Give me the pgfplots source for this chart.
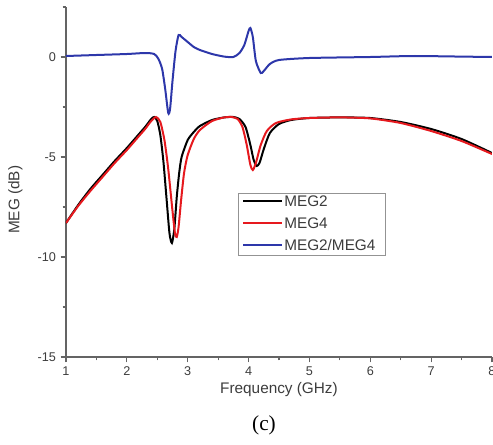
\documentclass[border=0pt]{standalone}
\usepackage{fontspec}
\setmainfont{Liberation Sans}
\newfontfamily\serifc{Liberation Serif}
\usepackage{pgfplots}
\pgfplotsset{compat=1.18}
\definecolor{megblue}{RGB}{45,55,170}
\definecolor{megred}{RGB}{230,25,30}
\definecolor{axgray}{RGB}{100,100,100}
\definecolor{txtgray}{RGB}{60,60,60}

\begin{document}
\begin{tikzpicture}[x=1pt,y=1pt]
\begin{axis}[name=ax,
    at={(0,0)}, anchor=south west,
    scale only axis,
    width=319.5pt, height=262.5pt,
    xmin=1, xmax=8, ymin=-15, ymax=2.5,
    axis x line*=bottom, axis y line*=left,
    axis line style={axgray, line width=0.9pt},
    every tick/.style={axgray, line width=0.8pt},
    tick align=outside,
    major tick length=4pt, minor tick length=2.5pt,
    xtick={1,...,8}, ytick={-15,-10,-5,0},
    minor xtick={1.5,2.5,...,7.5},
    minor ytick={-12.5,-7.5,-2.5,2.5},
    tick label style={font=\fontsize{9.5}{11}\selectfont, text=txtgray},
    /pgf/number format/assume math mode=true,
    xlabel={Frequency (GHz)}, ylabel={MEG (dB)},
    label style={font=\fontsize{11.5}{13}\selectfont, text=txtgray},
    xlabel style={at={(axis description cs:0.5,-0.092)}, anchor=center},
    ylabel style={at={(axis description cs:-0.119,0.449)}, anchor=center},
]
% MEG2/MEG4
\addplot[megblue, line width=1.5pt, smooth, tension=0.4] coordinates {
(1.0,0.05) (1.5,0.1) (2.0,0.15) (2.3,0.2) (2.45,0.15) (2.52,-0.1)
(2.58,-0.6) (2.63,-1.6) (2.68,-2.8) (2.71,-2.6) (2.75,-1.2) (2.8,0.3)
(2.85,1.1) (2.9,1.0) (3.0,0.75) (3.1,0.5) (3.2,0.35) (3.4,0.15)
(3.6,0.02) (3.75,0.0) (3.85,0.2) (3.93,0.6) (4.0,1.3) (4.03,1.45)
(4.07,1.0) (4.12,-0.2) (4.2,-0.8) (4.25,-0.7) (4.35,-0.35) (4.5,-0.15)
(5.0,-0.05) (6.0,0.0) (6.7,0.05) (7.5,0.02) (8.0,0.0)
};
% MEG2
\addplot[black, line width=1.5pt, smooth, tension=0.4] coordinates {
(1.0,-8.3) (1.2,-7.4) (1.4,-6.6) (1.6,-5.9) (1.8,-5.2) (2.0,-4.55)
(2.2,-3.85) (2.3,-3.5) (2.4,-3.1) (2.45,-3.0) (2.5,-3.2) (2.55,-3.9)
(2.6,-5.2) (2.65,-7.0) (2.7,-8.8) (2.74,-9.3) (2.78,-8.6) (2.82,-7.0)
(2.86,-5.8) (2.9,-5.0) (3.0,-4.15) (3.1,-3.75) (3.2,-3.45) (3.4,-3.15)
(3.6,-3.02) (3.75,-3.0) (3.85,-3.1) (3.95,-3.5) (4.03,-4.4) (4.08,-5.1)
(4.13,-5.45) (4.18,-5.3) (4.25,-4.6) (4.35,-3.8) (4.5,-3.35) (4.7,-3.15)
(5.0,-3.05) (5.5,-3.02) (6.0,-3.05) (6.5,-3.25) (7.0,-3.6) (7.5,-4.1)
(8.0,-4.8)
};
% MEG4
\addplot[megred, line width=1.5pt, smooth, tension=0.4] coordinates {
(1.0,-8.3) (1.2,-7.45) (1.4,-6.7) (1.6,-6.0) (1.8,-5.3) (2.0,-4.65)
(2.2,-3.95) (2.3,-3.6) (2.4,-3.2) (2.48,-3.0) (2.55,-3.25) (2.62,-4.2)
(2.68,-5.6) (2.74,-7.4) (2.79,-8.8) (2.82,-9.0) (2.85,-8.5) (2.89,-7.2)
(2.94,-5.8) (3.0,-4.9) (3.1,-4.1) (3.2,-3.65) (3.4,-3.2) (3.6,-3.02)
(3.72,-3.0) (3.82,-3.1) (3.9,-3.5) (3.97,-4.4) (4.03,-5.4) (4.07,-5.65)
(4.12,-5.3) (4.2,-4.4) (4.3,-3.7) (4.45,-3.3) (4.7,-3.12) (5.0,-3.05)
(5.5,-3.02) (6.0,-3.07) (6.5,-3.3) (7.0,-3.7) (7.5,-4.2) (8.0,-4.85)
};
\end{axis}
% legend box, drawn by hand
\draw[axgray!70, line width=0.6pt, fill=white] (129pt,76.5pt) rectangle (239.25pt,123pt);
\draw[black, line width=1.2pt] (132.75pt,117.2pt) -- (162pt,117.2pt);
\draw[megred, line width=1.2pt] (132.75pt,100.7pt) -- (162pt,100.7pt);
\draw[megblue, line width=1.2pt] (132.75pt,84.2pt) -- (162pt,84.2pt);
\begin{scope}[every node/.style={anchor=west, inner sep=0pt, text=txtgray,
    font=\fontsize{11.5}{13}\selectfont}]
\node at (163.5pt,117.2pt) {MEG2};
\node at (163.5pt,100.7pt) {MEG4};
\node at (163.5pt,84.2pt) {MEG2/MEG4};
\end{scope}
\node[font=\serifc\fontsize{16}{19}\selectfont] at (148.5pt,-51pt) {(c)};
\pgfresetboundingbox
\path[use as bounding box] (-49.5pt,-65.25pt) rectangle (320.25pt,267.75pt);
\end{tikzpicture}
\end{document}
